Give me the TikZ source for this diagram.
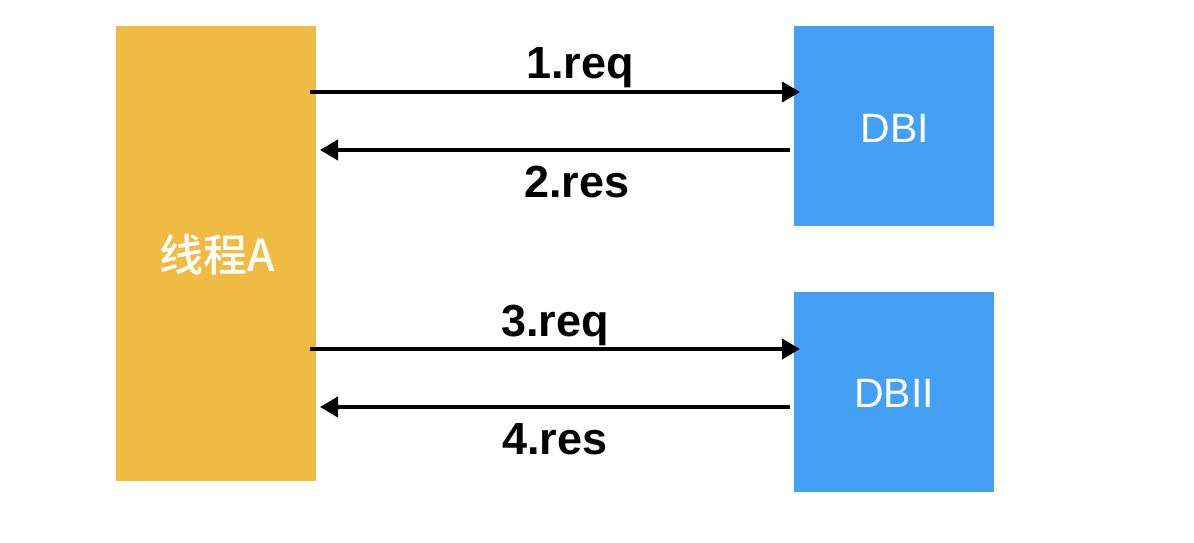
\documentclass[tikz,border=0pt]{standalone}
\usepackage{fontspec}
\setmainfont{Liberation Sans}
\newfontfamily\cjk[UprightFont=* Medium]{Noto Sans CJK SC}
\usetikzlibrary{arrows.meta}
\definecolor{thrcol}{RGB}{240,187,66}
\definecolor{dbcol}{RGB}{68,160,245}
\tikzset{
  box/.style={fill=#1, draw=none, inner sep=0pt, outer sep=0pt},
  arr/.style={line width=4pt, -{Triangle[length=18pt,width=20pt]}},
  lbl/.style={font=\fontsize{45}{48}\selectfont\bfseries, anchor=base, inner sep=0pt},
  dbtxt/.style={font=\fontsize{41}{44}\selectfont, text=white}
}
\begin{document}
\begin{tikzpicture}[x=1pt,y=-1pt]
\useasboundingbox (0,0) rectangle (1194,542);
\node[box=thrcol, minimum width=200pt, minimum height=455pt] (thread) at (216,253.5) {};
\node[box=dbcol, minimum width=200pt, minimum height=200pt] (db1) at (894,126) {};
\node[box=dbcol, minimum width=200pt, minimum height=200pt] (db2) at (894,392) {};
\node[font=\cjk\fontsize{44}{48}\selectfont, text=white] (tname) at (217,255) {线程A};
\node[dbtxt] (t1) at (895,128) {DBI};
\node[dbtxt] (t2) at (894,393) {DBII};
\coordinate (s1) at ([xshift=-6pt]thread.east |- 0,92);
\coordinate (e1) at ([xshift=6pt]db1.west |- 0,92);
\coordinate (s2) at ([xshift=-4pt]db1.west |- 0,150);
\coordinate (e2) at ([xshift=4pt]thread.east |- 0,150);
\coordinate (s3) at ([xshift=-6pt]thread.east |- 0,349);
\coordinate (e3) at ([xshift=6pt]db2.west |- 0,349);
\coordinate (s4) at ([xshift=-4pt]db2.west |- 0,407);
\coordinate (e4) at ([xshift=4pt]thread.east |- 0,407);
\draw[arr] (s1) -- (e1);
\draw[arr] (s2) -- (e2);
\draw[arr] (s3) -- (e3);
\draw[arr] (s4) -- (e4);
\node[lbl] (l1) at (580,78) {1.req};
\node[lbl] (l2) at (577,197) {2.res};
\node[lbl] (l3) at (555,336) {3.req};
\node[lbl] (l4) at (555,454) {4.res};
\end{tikzpicture}
\end{document}
